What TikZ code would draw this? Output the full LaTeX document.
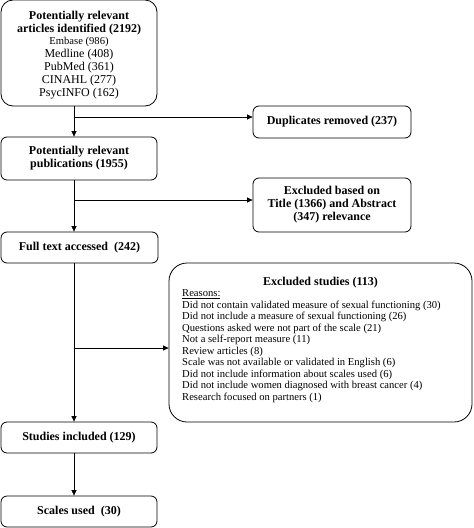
\documentclass[tikz,border=0pt]{standalone}
\usepackage{fontspec}
\setmainfont{Liberation Serif}
\usetikzlibrary{arrows.meta}
\begin{document}
\begin{tikzpicture}[x=1pt,y=1pt,
  box/.style={draw, line width=0.8pt, rounded corners=6pt, align=center, inner sep=0pt,
    font=\bfseries\fontsize{12}{13}\selectfont},
  arr/.style={-{Triangle[length=5.5pt,width=5pt]}, line width=0.7pt}]
\useasboundingbox (0,0) rectangle (474,-528);
\node[box, rounded corners=12pt, minimum width=156pt, minimum height=106pt] (b1) at (79,-53) {};
\node[align=center, inner sep=0pt, font=\bfseries\fontsize{12}{13}\selectfont] (b1t) at (79,-55)
  {Potentially relevant\\articles identified (2192)\\[-0.5pt]
   \mdseries\fontsize{10.6}{11.8}\selectfont Embase (986)\\ \mdseries Medline (408)\\ \mdseries PubMed (361)\\ \mdseries CINAHL (277)\\ \mdseries PsycINFO (162)};
\node[box, minimum width=158pt, minimum height=32pt] (dup) at (332,-122) {Duplicates removed (237)};
\node[box, minimum width=156pt, minimum height=43pt] (b2) at (79,-158.5) {Potentially relevant\\publications (1955)};
\node[box, minimum width=158pt, minimum height=54pt] (ex1) at (332,-205) {Excluded based on\\Title (1366) and Abstract\\(347) relevance};
\node[box, minimum width=157pt, minimum height=31pt] (b3) at (79.5,-247.5) {Full text accessed~ (242)};
\node[box, rounded corners=18pt, minimum width=303pt, minimum height=159pt] (ex2) at (320.5,-342.5) {};
\node[font=\bfseries\fontsize{12}{13}\selectfont] (ex2t) at (320.5,-283) {Excluded studies (113)};
\node[anchor=north west, align=left, inner sep=0pt, font=\fontsize{10.6}{11.5}\selectfont] (ex2l) at (182,-289.5)
  {\underline{Reasons:}\\
   Did not contain validated measure of sexual functioning (30)\\
   Did not include a measure of sexual functioning (26)\\
   Questions asked were not part of the scale (21)\\
   Not a self-report measure (11)\\
   Review articles (8)\\
   Scale was not available or validated in English (6)\\
   Did not include information about scales used (6)\\
   Did not include women diagnosed with breast cancer (4)\\
   Research focused on partners (1)};
\node[box, minimum width=156pt, minimum height=31pt] (b4) at (79,-437.5) {Studies included (129)};
\node[box, minimum width=156pt, minimum height=31pt] (b5) at (79,-511.5) {Scales used~ (30)};
\coordinate (t1) at (74,-106);
\coordinate (j1) at (74,-117);
\coordinate (j2) at (74,-200);
\coordinate (j3) at (74,-348);
\draw[arr] (t1) -- (t1 |- b2.north);
\draw[arr] (j1) -- (j1 -| dup.west);
\draw[arr] (t1 |- b2.south) -- (t1 |- b3.north);
\draw[arr] (j2) -- (j2 -| ex1.west);
\draw[arr] (t1 |- b3.south) -- (t1 |- b4.north);
\draw[arr] (j3) -- (j3 -| ex2.west);
\draw[arr] (t1 |- b4.south) -- (t1 |- b5.north);
\end{tikzpicture}
\end{document}
